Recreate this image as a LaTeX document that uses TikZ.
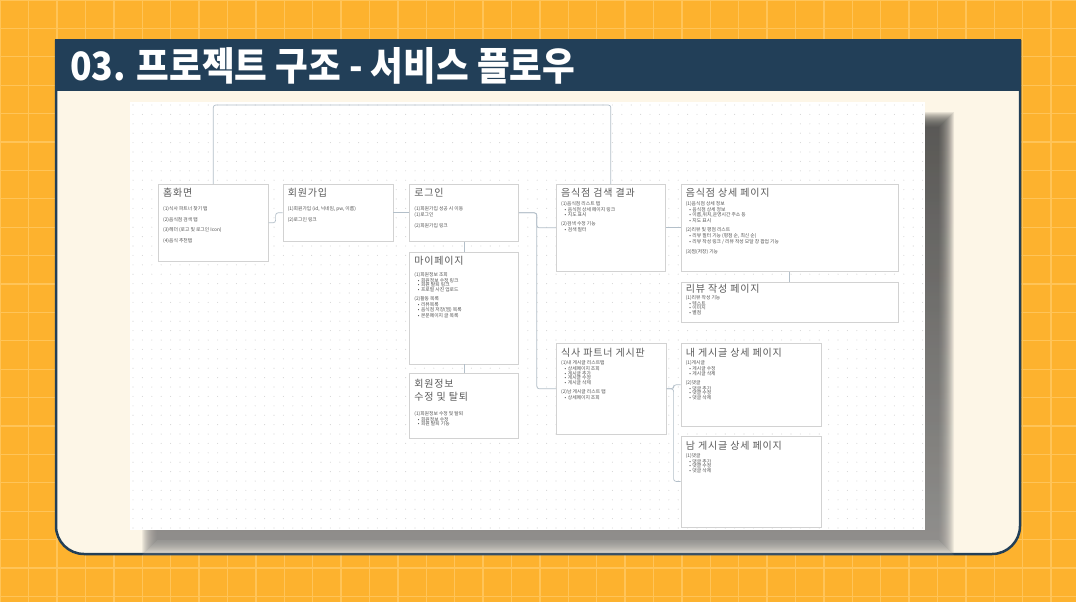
\documentclass[tikz,border=0pt]{standalone}
\usepackage{fontspec}
\usepackage{graphicx}
\usetikzlibrary{positioning,calc}
\newfontfamily\kr{Noto Sans CJK KR}
\newfontfamily\krsp[LetterSpace=8]{Noto Sans CJK KR}
\definecolor{bgorange}{HTML}{FDB22E}
\definecolor{gridline}{HTML}{FFC458}
\definecolor{navy}{HTML}{223F58}
\definecolor{cream}{HTML}{FDF6E7}
\definecolor{shade}{HTML}{6E6452}
\definecolor{dotgray}{HTML}{D6D6D6}
\definecolor{boxline}{HTML}{D2D2D2}
\definecolor{linkgray}{HTML}{B3BFC9}
\definecolor{titlegray}{HTML}{5A5A5A}
\definecolor{bodygray}{HTML}{505050}
\tikzset{
    page/.style={draw=boxline, line width=0.6pt, fill=white, anchor=north west, inner sep=0pt},
    pagetitle/.style={anchor=north west, inner sep=0pt, text=titlegray, align=left,
        font=\krsp\fontsize{10}{12.5}\selectfont},
    pagebody/.style={anchor=north west, inner sep=0pt, text=bodygray, align=left,
        font=\kr\fontsize{4.8}{4.6}\selectfont},
    link/.style={draw=linkgray, line width=0.7pt, rounded corners=2.5pt},
}
\newcommand{\bul}{\hspace*{3.5pt}•\hspace*{1.5pt}}

\begin{document}
\begin{tikzpicture}[x=1pt, y=-1pt]
    \useasboundingbox (0,0) rectangle (1076,602);
    % background and card
    \fill[bgorange] (0,0) rectangle (1076,602);
    \foreach \i in {0,...,38} \draw[gridline, line width=1.3pt] (0.3+\i*28.4,0) -- (0.3+\i*28.4,602);
    \foreach \j in {0,...,21} \draw[gridline, line width=1.3pt] (0,\j*28.4) -- (1076,\j*28.4);
    \draw[navy, fill=cream, line width=2.5pt, rounded corners=28pt] (56,40) -- (56,554) -- (1020,554) -- (1020,40);
    \fill[navy] (54.75,38.75) rectangle (1021.25,91);
    \node[anchor=base west, inner sep=0pt, text=white] (heading) at (70,81)
        {\resizebox{505pt}{33pt}{\kr\bfseries 03. 프로젝트 구조 - 서비스 플로우}};
    % screenshot with shadow and dot grid
    \foreach \i in {0,...,15} \fill[shade, opacity=0.055] (142+\i,112+\i) rectangle (954-\i,555-\i);
    \fill[white] (130,102) rectangle (925,530);
    \foreach \x in {0,...,84} \foreach \y in {0,...,45} \fill[dotgray] (133+\x*9.4,105+\y*9.4) circle (0.55);

    \node[page, minimum width=110pt, minimum height=77pt] (home) at (158,184) {};
    \node[page, minimum width=110pt, minimum height=57pt, right=14pt of home.north east, anchor=north west] (signup) {};
    \node[page, minimum width=109pt, minimum height=57pt, right=16pt of signup.north east, anchor=north west] (login) {};
    \node[page, minimum width=109pt, minimum height=112pt, below=10pt of login.south west, anchor=north west] (mypage) {};
    \node[page, minimum width=109pt, minimum height=65pt, below=9pt of mypage.south west, anchor=north west] (profile) {};
    \node[page, minimum width=109pt, minimum height=87pt] (search) at (556,184) {};
    \node[page, minimum width=217pt, minimum height=87pt, right=15pt of search.north east, anchor=north west] (detail) {};
    \node[page, minimum width=217pt, minimum height=40pt, below=10pt of detail.south west, anchor=north west] (review) {};
    \node[page, minimum width=110pt, minimum height=91pt] (partner) at (556,343) {};
    \node[page, minimum width=140pt, minimum height=83pt, right=14pt of partner.north east, anchor=north west] (mypost) {};
    \node[page, minimum width=140pt, minimum height=91pt, below=9pt of mypost.south west, anchor=north west] (otherpost) {};

    \node[pagetitle, below right=4pt and 5pt of home.north west] {홈화면};
    \node[pagebody, below right=22.5pt and 5pt of home.north west] {(1)식사 파트너 찾기 탭\\[4.6pt](2)음식점 검색 탭\\[4.6pt](3)헤더 (로고 및 로그인 Icon)\\[4.6pt](4)음식 추천탭};
    \node[pagetitle, below right=4pt and 5pt of signup.north west] {회원가입};
    \node[pagebody, below right=22.5pt and 5pt of signup.north west] {(1)회원가입 (id, 닉네임, pw, 이름)\\[4.6pt](2)로그인 링크};
    \node[pagetitle, below right=4pt and 5pt of login.north west] {로그인};
    \node[pagebody, below right=22.5pt and 5pt of login.north west] {(1)회원가입 성공 시 이동\\(1)로그인\\[4.6pt](2)회원가입 링크};
    \node[pagetitle, below right=4pt and 5pt of mypage.north west] {마이페이지};
    \node[pagebody, below right=20.5pt and 5pt of mypage.north west] {(1)회원정보 조회\\\bul 회원정보 수정 링크\\\bul 회원 탈퇴 링크\\\bul 프로필 사진 업로드\\[4.6pt](2)활동 목록\\\bul 리뷰목록\\\bul 음식점 저장(찜) 목록\\\bul 본문페이지 글 목록};
    \node[pagetitle, below right=6pt and 5pt of profile.north west] {회원정보\\수정 및 탈퇴};
    \node[pagebody, below right=38pt and 5pt of profile.north west] {(1)회원정보 수정 및 탈퇴\\\bul 회원정보 수정\\\bul 회원 탈퇴 기능};
    \node[pagetitle, below right=4pt and 5pt of search.north west] {음식점 검색 결과};
    \node[pagebody, below right=17.5pt and 5pt of search.north west] {(1)음식점 리스트 탭\\\bul 음식점 상세 페이지 링크\\\bul 지도 표시\\[4.6pt](2)검색 수정 기능\\\bul 검색 필터};
    \node[pagetitle, below right=4pt and 5pt of detail.north west] {음식점 상세 페이지};
    \node[pagebody, below right=17.5pt and 5pt of detail.north west] {(1)음식점 상세 정보\\\bul 음식점 상세 정보\\\bul 이름,위치,운영시간 주소 등\\\bul 지도 표시\\[4.6pt](2)리뷰 및 평점 리스트\\\bul 리뷰 필터 기능 (평점 순, 최신 순)\\\bul 리뷰 작성 링크 / 리뷰 작성 모달 창 팝업 기능\\[4.6pt](3)찜(저장) 기능};
    \node[pagetitle, below right=2pt and 5pt of review.north west] {리뷰 작성 페이지};
    \node[pagebody, below right=13.5pt and 5pt of review.north west] {(1)리뷰 작성 기능\\\bul 텍스트\\\bul 이미지\\\bul 별점};
    \node[pagetitle, below right=5pt and 5pt of partner.north west] {식사 파트너 게시판};
    \node[pagebody, below right=17.5pt and 5pt of partner.north west] {(1)내 게시글 리스트탭\\\bul 상세페이지 조회\\\bul 게시글 추가\\\bul 게시글 수정\\\bul 게시글 삭제\\[4.6pt](2)남 게시글 리스트 탭\\\bul 상세페이지 조회};
    \node[pagetitle, below right=5pt and 5pt of mypost.north west] {내 게시글 상세 페이지};
    \node[pagebody, below right=17.5pt and 5pt of mypost.north west] {(1)게시글\\\bul 게시글 수정\\\bul 게시글 삭제\\[4.6pt](2)댓글\\\bul 댓글 추가\\\bul 댓글 수정\\\bul 댓글 삭제};
    \node[pagetitle, below right=5pt and 5pt of otherpost.north west] {남 게시글 상세 페이지};
    \node[pagebody, below right=17.5pt and 5pt of otherpost.north west] {(1)댓글\\\bul 댓글 추가\\\bul 댓글 수정\\\bul 댓글 삭제};

    \coordinate (ceiling) at (0,105);
    \draw[link] (home.north) |- (ceiling -| search.north) -- (search.north);
    \draw[link] (home.east) -- ++(7pt,0) |- (signup.west);
    \draw[link] (signup.east) -- (login.west);
    \draw[link] (login.south) -- (mypage.north);
    \draw[link] (mypage.south) -- (profile.north);
    \draw[link] (login.east) -- ++(18pt,0) |- (search.west);
    \draw[link] (login.east) -- ++(18pt,0) |- (partner.west);
    \draw[link] (search.east) -- (detail.west);
    \draw[link] (detail.south) -- (review.north);
    \draw[link] (partner.east) -- ++(7pt,0) |- (mypost.west);
    \draw[link] (partner.east) -- ++(7pt,0) |- (otherpost.west);
\end{tikzpicture}
\end{document}
